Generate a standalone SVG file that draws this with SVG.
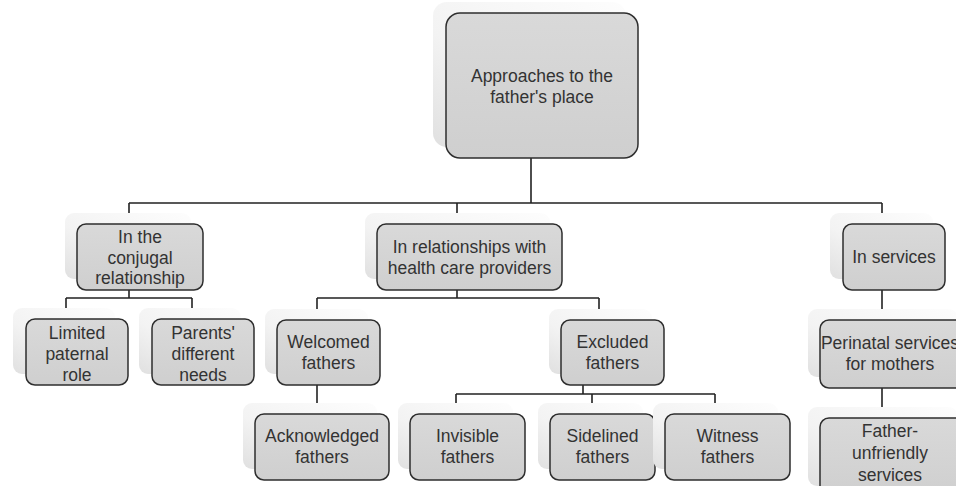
<svg xmlns="http://www.w3.org/2000/svg" width="956" height="486" viewBox="0 0 956 486">
<defs>
<linearGradient id="sh" x1="1" y1="0" x2="0" y2="1">
<stop offset="0" stop-color="#fdfdfd"/>
<stop offset="0.6" stop-color="#f3f3f3"/>
<stop offset="1" stop-color="#e0e0e0"/>
</linearGradient>
<linearGradient id="bx" x1="0" y1="0" x2="0" y2="1">
<stop offset="0" stop-color="#d9d9d9"/>
<stop offset="1" stop-color="#cfcfcf"/>
</linearGradient>
</defs>
<style>
.sh{fill:url(#sh);stroke:none}
.bx{fill:url(#bx);stroke:#2e2e2e;stroke-width:1.5}
.t{font-family:"Liberation Sans",Arial,sans-serif;font-size:17.5px;fill:#333;text-anchor:middle}
.c{fill:none;stroke:#222;stroke-width:1.6}
</style>
<rect width="956" height="486" fill="#fff"/>
<g id="connectors">
<path class="c" d="M531 158V203M129 203H882M129 203V213M457 203V213M882 203V213"/>
<path class="c" d="M129 290V298M66 298H192M66 298V308M192 298V308"/>
<path class="c" d="M457 290V298M317 298H599M317 298V309M599 298V309"/>
<path class="c" d="M317 385V403"/>
<path class="c" d="M583 385V394M456 394H715M456 394V403M592 394V403M715 394V403"/>
<path class="c" d="M882 290V309M882 388V407"/>
</g>
<g id="root">
<rect class="sh" x="433" y="2" width="193" height="145" rx="14"/>
<rect class="bx" x="446" y="13" width="192" height="145" rx="14"/>
<text class="t" x="542" y="82">Approaches to the</text>
<text class="t" x="542" y="103">father's place</text>
</g>
<g id="conjugal">
<rect class="sh" x="65" y="213" width="126" height="66" rx="9"/>
<rect class="bx" x="77" y="224" width="126" height="66" rx="9"/>
<text class="t" x="140" y="243">In the</text>
<text class="t" x="140" y="264">conjugal</text>
<text class="t" x="140" y="284">relationship</text>
</g>
<g id="providers">
<rect class="sh" x="365" y="213" width="185" height="66" rx="9"/>
<rect class="bx" x="377" y="224" width="185" height="66" rx="9"/>
<text class="t" x="469.5" y="253">In relationships with</text>
<text class="t" x="469.5" y="274">health care providers</text>
</g>
<g id="services">
<rect class="sh" x="830" y="213" width="103" height="66" rx="9"/>
<rect class="bx" x="843" y="224" width="102" height="66" rx="9"/>
<text class="t" x="894" y="263">In services</text>
</g>
<g id="limited">
<rect class="sh" x="13" y="308" width="102" height="66" rx="9"/>
<rect class="bx" x="26" y="319" width="102" height="66" rx="9"/>
<text class="t" x="77" y="339">Limited</text>
<text class="t" x="77" y="360">paternal</text>
<text class="t" x="77" y="381">role</text>
</g>
<g id="parents">
<rect class="sh" x="139" y="308" width="102" height="66" rx="9"/>
<rect class="bx" x="152" y="319" width="102" height="66" rx="9"/>
<text class="t" x="203" y="339">Parents'</text>
<text class="t" x="203" y="360">different</text>
<text class="t" x="203" y="381">needs</text>
</g>
<g id="welcomed">
<rect class="sh" x="265" y="309" width="103" height="65" rx="9"/>
<rect class="bx" x="277" y="320" width="103" height="65" rx="9"/>
<text class="t" x="328.5" y="348">Welcomed</text>
<text class="t" x="328.5" y="369">fathers</text>
</g>
<g id="excluded">
<rect class="sh" x="549" y="309" width="103" height="65" rx="9"/>
<rect class="bx" x="561" y="320" width="103" height="65" rx="9"/>
<text class="t" x="612.5" y="348">Excluded</text>
<text class="t" x="612.5" y="369">fathers</text>
</g>
<g id="perinatal">
<rect class="sh" x="808" y="309" width="150" height="68" rx="9"/>
<rect class="bx" x="820" y="320" width="150" height="68" rx="9"/>
<text class="t" x="890" y="349">Perinatal services</text>
<text class="t" x="890" y="370">for mothers</text>
</g>
<g id="acknowledged">
<rect class="sh" x="243" y="403" width="134" height="66" rx="9"/>
<rect class="bx" x="255" y="414" width="134" height="66" rx="9"/>
<text class="t" x="322" y="442">Acknowledged</text>
<text class="t" x="322" y="463">fathers</text>
</g>
<g id="invisible">
<rect class="sh" x="398" y="403" width="115" height="66" rx="9"/>
<rect class="bx" x="410" y="414" width="115" height="66" rx="9"/>
<text class="t" x="467.5" y="442">Invisible</text>
<text class="t" x="467.5" y="463">fathers</text>
</g>
<g id="sidelined">
<rect class="sh" x="538" y="403" width="105" height="66" rx="9"/>
<rect class="bx" x="550" y="414" width="105" height="66" rx="9"/>
<text class="t" x="602.5" y="442">Sidelined</text>
<text class="t" x="602.5" y="463">fathers</text>
</g>
<g id="witness">
<rect class="sh" x="653" y="403" width="125" height="66" rx="9"/>
<rect class="bx" x="665" y="414" width="125" height="66" rx="9"/>
<text class="t" x="727.5" y="442">Witness</text>
<text class="t" x="727.5" y="463">fathers</text>
</g>
<g id="unfriendly">
<rect class="sh" x="808" y="407" width="150" height="79" rx="9"/>
<rect class="bx" x="820" y="418" width="150" height="80" rx="9"/>
<text class="t" x="890" y="437">Father-</text>
<text class="t" x="890" y="459">unfriendly</text>
<text class="t" x="890" y="481">services</text>
</g>
</svg>
